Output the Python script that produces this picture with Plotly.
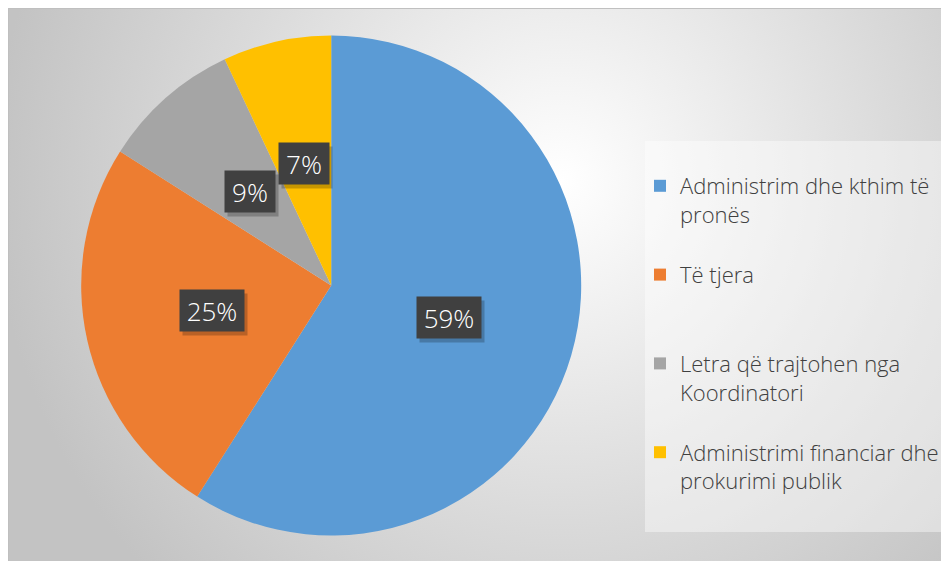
import base64
import math
import textwrap
import plotly.graph_objects as go

# ---- data ----
categories = [
    "Administrim dhe kthim të pronës",
    "Të tjera",
    "Letra që trajtohen nga Koordinatori",
    "Administrimi financiar dhe prokurimi publik",
]
values = [59, 25, 9, 7]
colors = ["#5B9BD5", "#ED7D31", "#A5A5A5", "#FFC000"]

# ---- layout constants (page pixels; the page body has an 8px margin) ----
OFF = 8
W, H = 949 - OFF, 561 - OFF
CX, CY, R = 331.2 - OFF, 285.5 - OFF, 250.0
LABEL_FRAC = 0.49
FONT = "Open Sans"
LEG_FS = 22

def px2x(p):
    return (p - OFF) / W

def px2y(p):
    return 1 - (p - OFF) / H

# legend labels: wrap + pad to equal height rows
def legend_label(s, lines=3):
    parts = textwrap.wrap(s, 26)
    parts += [" "] * (lines - len(parts))
    return "<br>".join(parts)

legend_labels = [legend_label(c) for c in categories]

# background: radial gradient chart area with left/top border
svg = """<svg xmlns="http://www.w3.org/2000/svg" width="943" height="554" viewBox="0 0 943 554" preserveAspectRatio="none">
<defs><radialGradient id="g" gradientUnits="userSpaceOnUse" cx="554" cy="173" r="570">
<stop offset="0" stop-color="#ffffff"/><stop offset="0.6" stop-color="#dadada"/><stop offset="1" stop-color="#c3c3c3"/></radialGradient></defs>
<rect x="0" y="0" width="943" height="554" fill="url(#g)"/>
<path d="M0.5,554 V0.5 H943" fill="none" stroke="#c0c0c0" stroke-width="1"/>
</svg>"""
bg_src = "data:image/svg+xml;base64," + base64.b64encode(svg.encode()).decode()

fig = go.Figure()
fig.add_trace(go.Pie(
    labels=legend_labels,
    values=values,
    sort=False,
    direction="clockwise",
    rotation=0,
    textinfo="none",
    marker=dict(colors=colors, line=dict(width=0)),
    domain=dict(x=[(CX - R) / W, (CX + R) / W], y=[1 - (CY + R) / H, 1 - (CY - R) / H]),
    hovertemplate="%{label}: %{percent}<extra></extra>",
))

# percentage labels in dark boxes, positioned from slice mid-angles
total = sum(values)
annotations = []
cum = 0
for v in values:
    mid = (cum + v / 2) / total * 2 * math.pi
    cum += v
    px = CX + LABEL_FRAC * R * math.sin(mid)
    py = CY - LABEL_FRAC * R * math.cos(mid) - 2
    pct = f"{round(v / total * 100)}%"
    bw = 64 if len(pct) > 2 else 50
    for shadow in (True, False):
        annotations.append(dict(
            x=px / W, y=1 - py / H, xref="paper", yref="paper",
            xanchor="center", yanchor="middle",
            text=" " if shadow else pct, showarrow=False,
            font=dict(family=FONT, size=26, color="#ffffff", weight=300),
            bgcolor="rgba(0,0,0,0.22)" if shadow else "#404040",
            width=bw, height=41, borderpad=0,
            xshift=3 if shadow else 0, yshift=-4 if shadow else 0,
        ))

fig.update_layout(
    width=W, height=H,
    margin=dict(l=0, r=0, t=0, b=0),
    paper_bgcolor="#ffffff",
    font=dict(family=FONT, color="#404040"),
    images=[dict(
        source=bg_src, xref="paper", yref="paper",
        x=px2x(8), y=px2y(8), sizex=(949 - 8) / W, sizey=(561 - 8) / H,
        xanchor="left", yanchor="top", sizing="stretch", layer="below",
    )],
    shapes=[dict(
        type="rect", xref="paper", yref="paper",
        x0=px2x(645), x1=px2x(946), y0=px2y(532), y1=px2y(141),
        fillcolor="rgba(255,255,255,0.42)", line=dict(width=0), layer="below",
    )],
    legend=dict(
        x=px2x(640), y=px2y(165), xanchor="left", yanchor="top",
        bgcolor="rgba(0,0,0,0)", borderwidth=0, valign="top",
        font=dict(family=FONT, size=LEG_FS, color="#404040", weight=300),
        itemwidth=30,
    ),
    annotations=annotations,
)

fig.write_html("out.html")
